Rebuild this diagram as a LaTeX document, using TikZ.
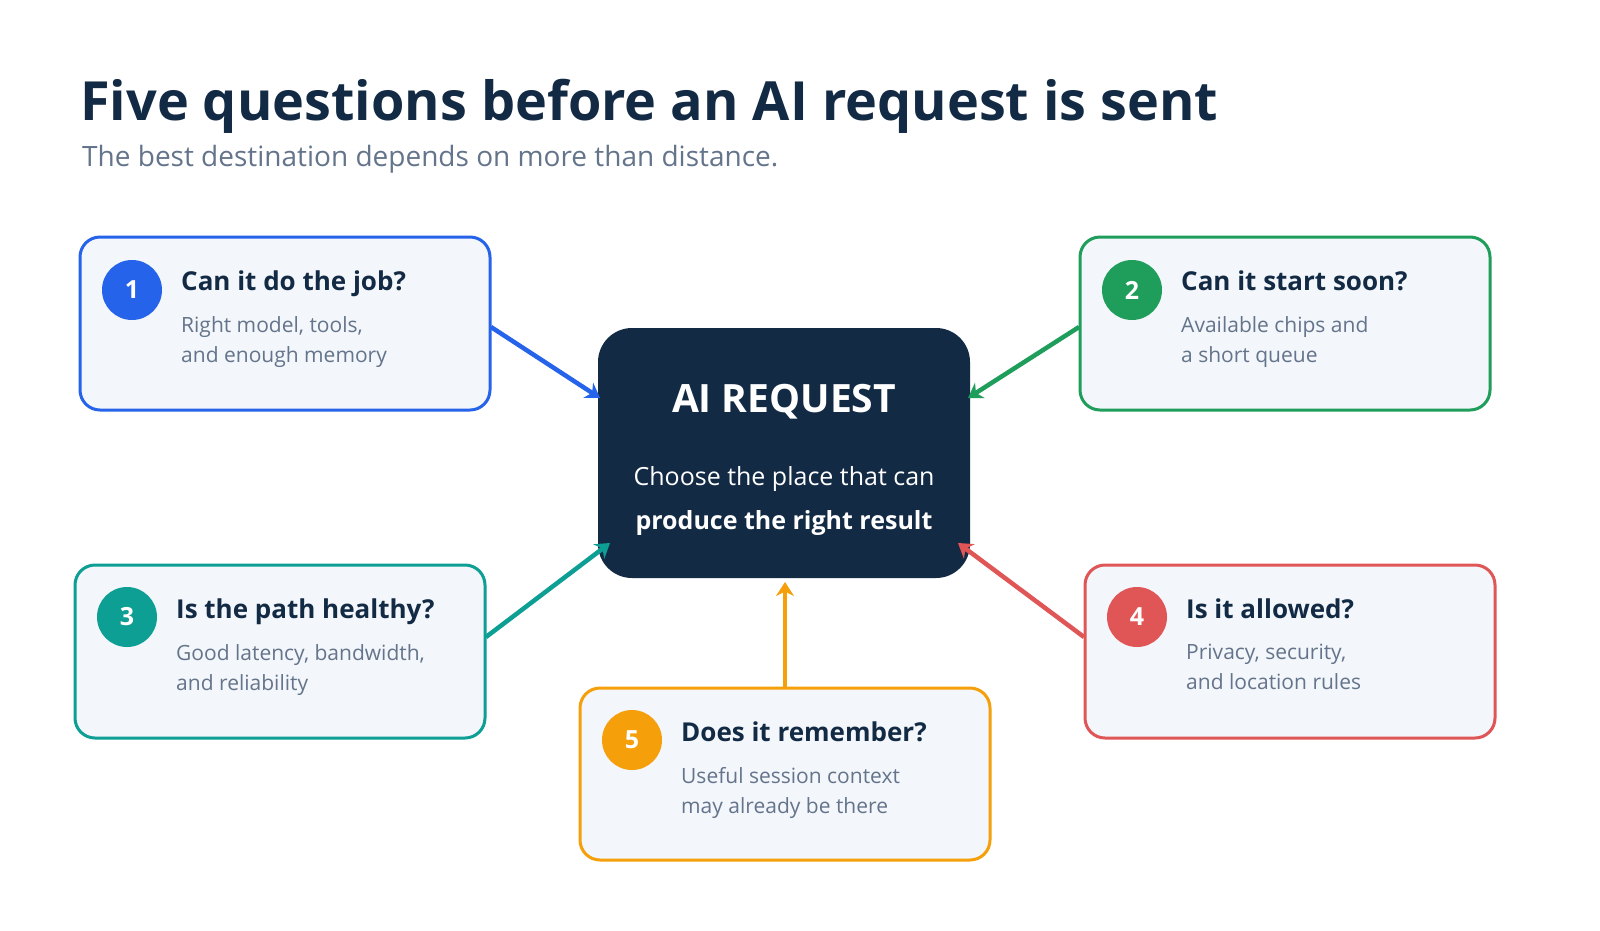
\documentclass[tikz,border=0pt]{standalone}
\usepackage{fontspec}
\setmainfont{Open Sans}
\usetikzlibrary{arrows.meta}
\definecolor{navy}{HTML}{132A45}
\definecolor{sub}{HTML}{64748B}
\definecolor{cblue}{HTML}{2563EB}
\definecolor{cgreen}{HTML}{1F9D5A}
\definecolor{cteal}{HTML}{0D9E94}
\definecolor{cred}{HTML}{E05555}
\definecolor{corange}{HTML}{F5A00B}
\definecolor{boxbg}{HTML}{F3F6FA}
\begin{document}
\begin{tikzpicture}[x=1pt,y=-1pt,
 card/.style={draw=#1,line width=3pt,fill=boxbg,rounded corners=20pt},
 num/.style={circle,fill=#1,minimum size=60pt,inner sep=0pt,text=white,font=\fontsize{25}{30}\selectfont\bfseries},
 qt/.style={anchor=base west,inner sep=0pt,text=navy,font=\fontsize{26}{32}\selectfont\bfseries},
 st/.style={anchor=north west,inner sep=0pt,text=sub,align=left,font=\fontsize{21}{30}\selectfont},
 arr/.style={draw=#1,line width=4.5pt,-{Stealth[length=14pt,width=18pt]}}]
\useasboundingbox (0,0) rectangle (1600,930);
\fill[white] (0,0) rectangle (1600,930);
\node[anchor=base west,text=navy,inner sep=0pt,font=\fontsize{54}{60}\selectfont\bfseries] (title) at (80,120) {Five questions before an AI request is sent};
\node[anchor=base west,text=sub,inner sep=0pt,font=\fontsize{28}{34}\selectfont] (subt) at (82,166) {The best destination depends on more than distance.};
% center
\fill[navy,rounded corners=34pt] (598,328) rectangle (970,578);
\node[text=white,font=\fontsize{39}{46}\selectfont\bfseries] (ai) at (784,402) {AI REQUEST};
\node[anchor=base,text=white,font=\fontsize{25}{30}\selectfont] (c1) at (784,485) {Choose the place that can};
\node[anchor=base,text=white,font=\fontsize{25}{30}\selectfont\bfseries] (c2) at (784,529) {produce the right result};
% cards
\draw[card=cblue] (80,237) rectangle (490,410);
\draw[card=cgreen] (1080,237) rectangle (1490,410);
\draw[card=cteal] (75,565) rectangle (485,738);
\draw[card=cred] (1085,565) rectangle (1495,738);
\draw[card=corange] (580,688) rectangle (990,860);
\node[num=cblue] (n1) at (132,290) {1};
\node[num=cgreen] (n2) at (1132,290) {2};
\node[num=cteal] (n3) at (127,617) {3};
\node[num=cred] (n4) at (1137,617) {4};
\node[num=corange] (n5) at (632,740) {5};
\node[qt] (q1) at (181,290) {Can it do the job?};
\node[qt] (q2) at (1181,290) {Can it start soon?};
\node[qt] (q3) at (176,618) {Is the path healthy?};
\node[qt] (q4) at (1186,618) {Is it allowed?};
\node[qt] (q5) at (681,741) {Does it remember?};
\node[st] (s1) at (181,316) {Right model, tools,\\and enough memory};
\node[st] (s2) at (1181,316) {Available chips and\\a short queue};
\node[st] (s3) at (176,644) {Good latency, bandwidth,\\and reliability};
\node[st] (s4) at (1186,644) {Privacy, security,\\and location rules};
\node[st] (s5) at (681,767) {Useful session context\\may already be there};
% arrows
\coordinate (a1) at (491,327); \coordinate (b1) at (600,398);
\coordinate (a2) at (1079,327); \coordinate (b2) at (968,398);
\coordinate (a3) at (486,637); \coordinate (b3) at (610,543);
\coordinate (a4) at (1084,637); \coordinate (b4) at (958,543);
\coordinate (a5) at (785,687); \coordinate (b5) at (785,582);
\draw[arr=cblue] (a1) -- (b1);
\draw[arr=cgreen] (a2) -- (b2);
\draw[arr=cteal] (a3) -- (b3);
\draw[arr=cred] (a4) -- (b4);
\draw[arr=corange] (a5) -- (b5);
\end{tikzpicture}
\end{document}
